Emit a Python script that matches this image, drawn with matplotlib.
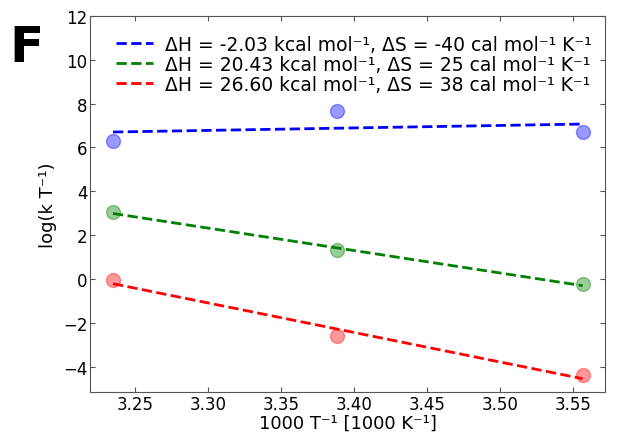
import numpy as np
import matplotlib.pyplot as plt

inv_T = [3.2347, 3.3880, 3.5568]
logkT_blue = [6.30, 7.65, 6.70]
logkT_green = [3.05, 1.30, -0.25]
logkT_red = [-0.05, -2.60, -4.40]
labels = ['ΔH = -2.03 kcal mol⁻¹, ΔS = -40 cal mol⁻¹ K⁻¹',
          'ΔH = 20.43 kcal mol⁻¹, ΔS = 25 cal mol⁻¹ K⁻¹',
          'ΔH = 26.60 kcal mol⁻¹, ΔS = 38 cal mol⁻¹ K⁻¹']
colors = ['blue', 'green', 'red']

fig = plt.figure(figsize=(6.3, 4.35), dpi=100)
ax = fig.add_axes([0.143, 0.097, 0.817, 0.864])

x = np.array(inv_T)
for y, c, lab in zip([logkT_blue, logkT_green, logkT_red], colors, labels):
    ax.plot(x, y, 'o', color=c, alpha=0.4, markersize=10, zorder=2)
    p = np.polyfit(x, y, 1)
    ax.plot(x, np.polyval(p, x), '--', color=c, lw=2, label=lab, zorder=3)

ax.set_xlim(3.219, 3.572)
ax.set_ylim(-5.15, 12)
ax.set_xticks([3.25, 3.30, 3.35, 3.40, 3.45, 3.50, 3.55])
ax.set_yticks(range(-4, 13, 2))
ax.tick_params(direction='in', top=True, right=True, labelsize=12, pad=2,
               colors='#555555', labelcolor='black')
for s in ax.spines.values():
    s.set_color('#555555')
ax.set_xlabel('1000 T⁻¹ [1000 K⁻¹]', fontsize=13, labelpad=1)
ax.set_ylabel('log(k T⁻¹)', fontsize=13)
ax.legend(loc='upper center', bbox_to_anchor=(0.512, 1.0), frameon=False,
          fontsize=13.5, handlelength=2.0, handletextpad=0.6,
          borderaxespad=0.6, labelspacing=0.05)
fig.text(0.015, 0.857, 'F', fontsize=36, fontweight='bold')
fig.savefig('out.png')
